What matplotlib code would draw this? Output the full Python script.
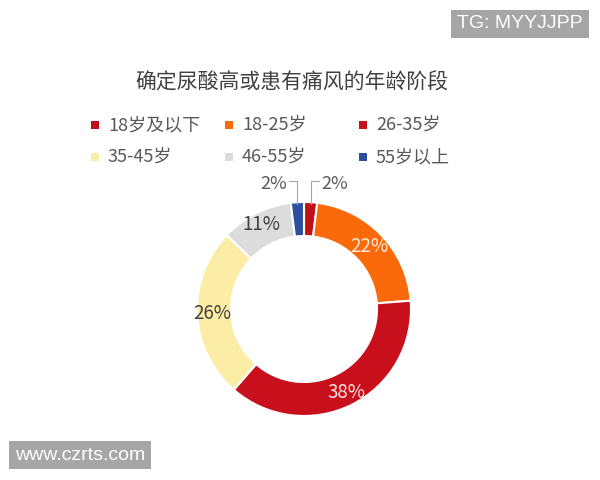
import numpy as np
import matplotlib
matplotlib.use('Agg')
import matplotlib.pyplot as plt
from matplotlib.patches import Rectangle

plt.rcParams['font.family'] = ['Noto Sans CJK SC', 'DejaVu Sans']

title = '确定尿酸高或患有痛风的年龄阶段'
labels = ['18岁及以下', '18-25岁', '26-35岁', '35-45岁', '46-55岁', '55岁以上']
values = [2, 22, 38, 26, 11, 2]
colors = ['#C0101A', '#FA6A0A', '#C8101C', '#FCEDA6', '#DCDCDC', '#2E4F9E']
# 标签颜色和放置半径
label_colors = ['#595959', '#FFEBD8', '#FFE6E6', '#404040', '#404040', '#595959']
label_r = [None, 90, 94, 92, 95, None]

fig = plt.figure(figsize=(6, 4.8), dpi=100)
ax = fig.add_axes([0, 0, 1, 1])

cx, cy, R = 304, 480 - 309, 107
wedges, _ = ax.pie(values, colors=colors, startangle=90, counterclock=False,
                   center=(cx, cy), radius=R, frame=True,
                   wedgeprops=dict(width=34, edgecolor='white', linewidth=1.5))
ax.set_xlim(0, 600)
ax.set_ylim(0, 480)
ax.set_aspect('equal')
ax.axis('off')

for i, w in enumerate(wedges):
    ang = np.deg2rad((w.theta1 + w.theta2) / 2)
    txt = '%d%%' % values[i]
    if label_r[i] is not None:
        x = cx + label_r[i] * np.cos(ang)
        y = cy + label_r[i] * np.sin(ang)
        ax.text(x, y, txt, ha='center', va='center', fontsize=13.5,
                color=label_colors[i])
    else:
        # 小扇区用引导线标在外侧
        x0 = cx + (R - 2) * np.cos(ang)
        y0 = cy + (R - 2) * np.sin(ang)
        side = 1 if np.cos(ang) > 0 else -1
        ty = cy + R + 21
        ax.plot([x0, x0, x0 + side * 8], [y0, ty, ty], color='#A6A6A6', lw=0.8)
        ax.text(x0 + side * 24, ty - 3, txt, ha='center', va='center',
                fontsize=13, color=label_colors[i])

ax.text(292, 480 - 83, title, ha='center', va='center', fontsize=15,
        color='#404040')

# 图例
for i, (lab, col) in enumerate(zip(labels, colors)):
    lx = 91 + (i % 3) * 134
    ly = 480 - 125 - (i // 3) * 32
    ax.add_patch(Rectangle((lx, ly - 4), 8, 8, facecolor=col, edgecolor='none'))
    ax.text(lx + 17, ly, lab, ha='left', va='center', fontsize=13,
            color='#595959')

# 水印
ax.text(520, 480 - 24, 'TG: MYYJJPP', ha='center', va='center', fontsize=14,
        color='white', family=['Liberation Sans'],
        bbox=dict(boxstyle='square,pad=0.3', facecolor='#A6A6A6', edgecolor='none'))
ax.text(80, 480 - 455, 'www.czrts.com', ha='center', va='center', fontsize=14,
        color='white', family=['Liberation Sans'],
        bbox=dict(boxstyle='square,pad=0.3', facecolor='#A6A6A6', edgecolor='none'))

fig.savefig('out.png', dpi=100)
